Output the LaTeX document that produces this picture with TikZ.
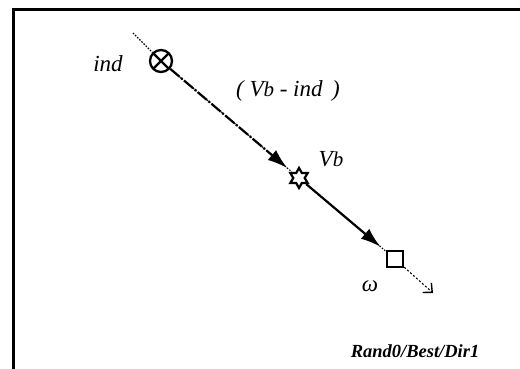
\documentclass[tikz,border=0pt]{standalone}
\usepackage{fontspec}
\setmainfont{Liberation Serif}
\usetikzlibrary{shapes.geometric,arrows.meta}
\begin{document}
\begin{tikzpicture}[x=1pt,y=-1pt,
  lbl/.style={font=\fontsize{23}{25}\selectfont\itshape, inner sep=0pt},
  otimesnode/.style={circle, draw, line width=2.3pt, minimum size=22pt, inner sep=0pt,
     path picture={\draw[line width=2.2pt] (path picture bounding box.south west) -- (path picture bounding box.north east)
       (path picture bounding box.north west) -- (path picture bounding box.south east);}},
  starnode/.style={star, star points=6, star point ratio=1.75, draw, line width=2.2pt, minimum size=20pt, inner sep=0pt},
  sqnode/.style={rectangle, draw, line width=2.4pt, minimum size=16pt, inner sep=0pt},
  thinfill/.style={line width=1.1pt, dash pattern=on 1.5pt off 1.5pt},
  dashdotline/.style={line width=2.2pt, dash pattern=on 12pt off 2pt on 2pt off 2pt, shorten >=6pt, -{Latex[length=20pt,width=13pt]}},
  solidline/.style={line width=2.2pt, shorten >=7pt, -{Latex[length=20pt,width=13pt]}},
  openend/.style={line width=1.1pt, dash pattern=on 2pt off 2pt, -{Straight Barb[length=7pt,width=13pt,line width=1.4pt]}}
]
\useasboundingbox (0,0) rectangle (520,368);
\fill[white] (0,0) rectangle (520,368);
% frame
\draw[line width=3pt, line cap=rect] (13,368) -- (13,9.5) -- (520,9.5);

% nodes
\coordinate (s) at (133,33);
\node[otimesnode] (a) at (161,61) {};
\node[starnode] (b) at (299,178) {};
\node[sqnode] (c) at (395,259) {};
\coordinate (e) at (433,293);

% connectors
\draw[thinfill] (s) -- (a);
\draw[thinfill] (a) -- (b);
\draw[dashdotline] (a) -- (b);
\draw[thinfill] (b) -- (c);
\draw[solidline] (b) -- (c);
\draw[openend] (c) -- (e);

% labels
\node[lbl] (lind) at (108,64) {ind};
\node[lbl] (ldiff) at (288,91) {( V{\fontsize{21}{22}\selectfont b} - ind \,)};
\node[lbl] (lvb) at (331,159) {V{\fontsize{21}{22}\selectfont b}};
\node[lbl, font=\fontsize{23}{25}\selectfont\itshape] (lw) at (370,286) {ω};
\node[inner sep=0pt, font=\fontsize{18.5}{20}\selectfont\bfseries\itshape] (lrand) at (415,351) {Rand0/Best/Dir1};
\end{tikzpicture}
\end{document}
